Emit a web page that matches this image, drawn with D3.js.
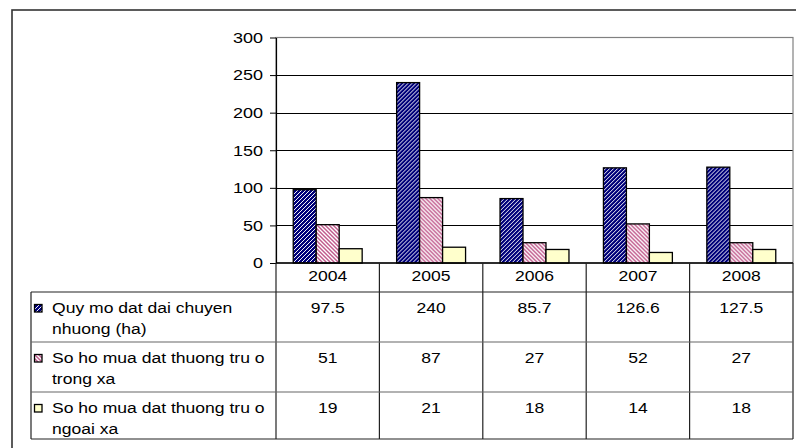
<!DOCTYPE html>
<html>
<head>
<meta charset="utf-8">
<script src="https://cdn.jsdelivr.net/npm/d3@7"></script>
<style>
  html, body { margin: 0; padding: 0; background: #fff; }
  svg { display: block; font-family: "Liberation Sans", Arial, sans-serif; }
</style>
</head>
<body>
<svg id="chart" width="796" height="448"></svg>
<script>
// ---- data ----
const years = ["2004", "2005", "2006", "2007", "2008"];
const seriesKeys = ["quyMo", "trongXa", "ngoaiXa"];
const seriesLabels = [
  ["Quy mo dat dai chuyen", "nhuong (ha)"],
  ["So ho mua dat thuong tru o", "trong xa"],
  ["So ho mua dat thuong tru o", "ngoai xa"]
];
const quyMo   = [97.5, 240, 85.7, 126.6, 127.5];
const trongXa = [51, 87, 27, 52, 27];
const ngoaiXa = [19, 21, 18, 14, 18];
const yTicks  = [0, 50, 100, 150, 200, 250, 300];

const seriesValues = [quyMo, trongXa, ngoaiXa];
const fills = ["url(#patBlue)", "url(#patPink)", "#FFFFCC"];

// ---- layout ----
const svg = d3.select("#chart");
const L = 276, R = 793, T = 37.5, B = 263;
const tableLeft = 31;
const rowEdges = [292, 342, 392, 439];
const FS = 15, SX = 1.17;

// patterns
const defs = svg.append("defs");
const pb = defs.append("pattern").attr("id", "patBlue")
  .attr("patternUnits", "userSpaceOnUse").attr("width", 4).attr("height", 4);
pb.append("rect").attr("width", 4).attr("height", 4).attr("fill", "#00007A");
pb.append("path").attr("d", "M-1,1 L1,-1 M0,4 L4,0 M3,5 L5,3")
  .attr("stroke", "#ffffff").attr("stroke-width", 0.95);
const pp = defs.append("pattern").attr("id", "patPink")
  .attr("patternUnits", "userSpaceOnUse").attr("width", 4).attr("height", 4);
pp.append("rect").attr("width", 4).attr("height", 4).attr("fill", "#ffffff");
pp.append("path").attr("d", "M-1,3 L1,5 M0,0 L4,4 M3,-1 L5,1")
  .attr("stroke", "#C05A8C").attr("stroke-width", 1.45);

// outer frame
svg.append("rect").attr("x", 12).attr("y", 10).attr("width", 800).attr("height", 460)
  .attr("fill", "none").attr("stroke", "#333").attr("stroke-width", 1.6);

// scales
const x = d3.scaleBand().domain(years).range([L, R]).paddingInner(0).paddingOuter(0);
const xs = d3.scaleBand().domain(seriesKeys).range([0, x.bandwidth()])
  .paddingInner(0).paddingOuter(0.75);
const y = d3.scaleLinear().domain([0, 300]).range([B, T]);

// gridlines
svg.append("g").selectAll("line").data(yTicks.filter(v => v > 0 && v < 300)).join("line")
  .attr("x1", L).attr("x2", R)
  .attr("y1", d => Math.round(y(d)) + 0.5).attr("y2", d => Math.round(y(d)) + 0.5)
  .attr("stroke", "#000").attr("stroke-width", 1);

// plot area border
svg.append("rect").attr("x", L).attr("y", T).attr("width", R - L).attr("height", B - T)
  .attr("fill", "none").attr("stroke", "#808080").attr("stroke-width", 1.2);

// bars
const groups = svg.append("g").selectAll("g").data(years).join("g")
  .attr("transform", d => `translate(${x(d)},0)`);
groups.selectAll("rect").data((d, i) => seriesKeys.map((k, s) => ({ k, s, v: seriesValues[s][i] })))
  .join("rect")
  .attr("x", d => xs(d.k))
  .attr("width", xs.bandwidth())
  .attr("y", d => y(d.v))
  .attr("height", d => B - y(d.v))
  .attr("fill", d => fills[d.s])
  .attr("stroke", "#000").attr("stroke-width", 1.3);

// y axis
const yAxis = svg.append("g").attr("transform", `translate(${L},0)`)
  .call(d3.axisLeft(y).tickValues(yTicks).tickSize(6).tickPadding(0).tickSizeOuter(0));
yAxis.select(".domain").attr("stroke", "#000").attr("stroke-width", 1.2);
yAxis.selectAll(".tick line").attr("stroke", "#000");
yAxis.selectAll(".tick text")
  .attr("font-size", FS).attr("font-family", "Liberation Sans, Arial, sans-serif")
  .attr("fill", "#000")
  .attr("x", -13 / 1.2)
  .attr("transform", "scale(1.2,1)");

// x axis line
svg.append("line").attr("x1", L).attr("x2", R).attr("y1", B).attr("y2", B)
  .attr("stroke", "#000").attr("stroke-width", 1.3);

// ---- data table ----
const tbl = svg.append("g");
function txt(g, tx, ty, s, anchor) {
  g.append("text")
    .attr("transform", `translate(${tx},${ty}) scale(${SX},1)`)
    .attr("text-anchor", anchor)
    .attr("font-size", FS)
    .attr("fill", "#000")
    .text(s);
}
const colEdges = years.map(d => x(d)).concat([R]);
colEdges.forEach(cx => {
  tbl.append("line").attr("x1", cx).attr("x2", cx).attr("y1", B).attr("y2", rowEdges[3])
    .attr("stroke", "#222").attr("stroke-width", 1.2);
});
tbl.append("line").attr("x1", tableLeft).attr("x2", tableLeft)
  .attr("y1", rowEdges[0]).attr("y2", rowEdges[3]).attr("stroke", "#222").attr("stroke-width", 1.2);
rowEdges.forEach((ry, i) => {
  tbl.append("line").attr("x1", tableLeft).attr("x2", R).attr("y1", ry).attr("y2", ry)
    .attr("stroke", (i === 1 || i === 2) ? "#666" : "#222").attr("stroke-width", 1.2);
});
years.forEach(yr => txt(tbl, x(yr) + x.bandwidth() / 2, 281, yr, "middle"));
seriesKeys.forEach((k, s) => {
  const top = rowEdges[s];
  tbl.append("rect").attr("x", 34.5).attr("y", top + 12.5).attr("width", 7.5).attr("height", 7.5)
    .attr("fill", fills[s]).attr("stroke", "#000").attr("stroke-width", 1.3);
  seriesLabels[s].forEach((line, li) => txt(tbl, 52, top + 21 + li * 20.5, line, "start"));
  seriesValues[s].forEach((v, i) => txt(tbl, x(years[i]) + x.bandwidth() / 2, top + 20.5, String(v), "middle"));
});
</script>
</body>
</html>
